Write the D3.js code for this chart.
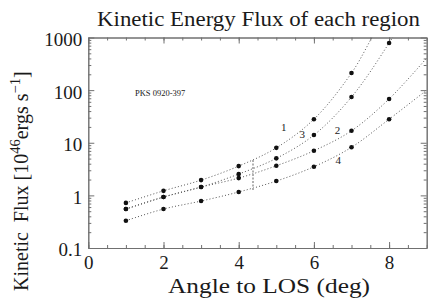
<!DOCTYPE html>
<html><head><meta charset="utf-8">
<script src="https://cdn.jsdelivr.net/npm/d3@7"></script>
<style>
body{margin:0;background:#fff;}
text{font-family:"Liberation Serif","Times New Roman",serif;fill:#1a1a1a;}
</style></head>
<body><svg id="c" width="428" height="302"></svg>
<script>
// ---- data ----
const angles = [1, 2, 3, 4, 5, 6, 7, 8];
const flux1 = [0.72, 1.22, 1.95, 3.6, 8.0, 28, 211, 3200];
const flux2 = [0.55, 0.93, 1.44, 2.13, 3.65, 7.05, 16.9, 68];
const flux3 = [0.55, 0.93, 1.44, 2.54, 5.05, 14.0, 74, 786];
const flux4 = [0.33, 0.55, 0.78, 1.16, 1.87, 3.5, 8.2, 28];
// curve end values at angle 9
const curveEndAngle = 9;
const curveEnd = [12000, 407, 12000, 100];
const seriesNames = ["1", "2", "3", "4"];
const labelPos = [[5.2, 20], [6.63, 17.4], [5.69, 14.6], [6.65, 4.7]];
const xMajor = [0, 2, 4, 6, 8];
const xMinor = d3.range(0, 9.01, 0.5);
const yMajor = [0.1, 1, 10, 100, 1000];
const yMinor = [0.1, 1, 10, 100].flatMap(d => d3.range(2, 10).map(k => +(k * d).toPrecision(3)));
const markerX = 4.38, markerRange = [1.26, 4.7];
const note = "PKS 0920-397";
const notePos = [1.24, 77];

const svg = d3.select("#c");
const x = d3.scaleLinear().domain([0, 9]).range([88.3, 426.7]);
const y = d3.scaleLog().domain([0.1, 1000]).range([248, 37.5]);
const frameColor = "#707070";

svg.append("defs").append("clipPath").attr("id", "clip")
  .append("rect").attr("x", x(0)).attr("y", y(1000)).attr("width", x(9) - x(0)).attr("height", y(0.1) - y(1000));

function styleAxis(g) {
  g.selectAll("path.domain").attr("stroke", frameColor);
  g.selectAll(".tick line").attr("stroke", frameColor);
}
// bottom
const gb = svg.append("g").attr("transform", `translate(0,${y(0.1)})`);
gb.call(d3.axisBottom(x).tickValues(xMinor).tickSize(-3).tickSizeOuter(0).tickFormat("")).call(styleAxis);
const gb2 = svg.append("g").attr("transform", `translate(0,${y(0.1)})`);
gb2.call(d3.axisBottom(x).tickValues(xMajor).tickSize(-6).tickSizeOuter(0).tickPadding(8).tickFormat(d3.format("d"))).call(styleAxis);
gb2.selectAll("text").attr("font-size", 19).attr("font-family", "Liberation Serif").attr("fill", "#1a1a1a");
// top
const gt = svg.append("g").attr("transform", `translate(0,${y(1000)})`);
gt.call(d3.axisTop(x).tickValues(xMinor).tickSize(-3).tickSizeOuter(0).tickFormat("")).call(styleAxis);
const gt2 = svg.append("g").attr("transform", `translate(0,${y(1000)})`);
gt2.call(d3.axisTop(x).tickValues(xMajor).tickSize(-6).tickSizeOuter(0).tickFormat("")).call(styleAxis);
// left
const gl = svg.append("g").attr("transform", `translate(${x(0)},0)`);
gl.call(d3.axisLeft(y).tickValues(yMinor).tickSize(-3).tickSizeOuter(0).tickFormat("")).call(styleAxis);
const gl2 = svg.append("g").attr("transform", `translate(${x(0)},0)`);
gl2.call(d3.axisLeft(y).tickValues(yMajor).tickSize(-6).tickSizeOuter(0).tickPadding(6).tickFormat(d => d < 1 ? "0.1" : d3.format("d")(d))).call(styleAxis);
gl2.selectAll("text").attr("font-size", 19).attr("dy", "0.42em").attr("font-family", "Liberation Serif").attr("fill", "#1a1a1a");
// right
const gr = svg.append("g").attr("transform", `translate(${x(9)},0)`);
gr.call(d3.axisRight(y).tickValues(yMinor).tickSize(-3).tickSizeOuter(0).tickFormat("")).call(styleAxis);
const gr2 = svg.append("g").attr("transform", `translate(${x(9)},0)`);
gr2.call(d3.axisRight(y).tickValues(yMajor).tickSize(-6).tickSizeOuter(0).tickFormat("")).call(styleAxis);

// curves
const plot = svg.append("g").attr("clip-path", "url(#clip)");
const allSeries = [flux1, flux2, flux3, flux4];
const line = d3.line().x(d => x(d[0])).y(d => y(d[1])).curve(d3.curveCatmullRom);
allSeries.forEach((s, i) => {
  const pts = angles.map((a, j) => [a, s[j]]).concat([[curveEndAngle, curveEnd[i]]]);
  plot.append("path").attr("d", line(pts)).attr("fill", "none")
    .attr("stroke", "#555").attr("stroke-width", 1).attr("stroke-dasharray", "1,2.2");
});
// marker
plot.append("line").attr("x1", x(markerX)).attr("x2", x(markerX))
  .attr("y1", y(markerRange[0])).attr("y2", y(markerRange[1]))
  .attr("stroke", "#b0b0b0").attr("stroke-width", 2).attr("stroke-dasharray", "2,1.5");
// points
allSeries.forEach(s => {
  plot.selectAll(null).data(angles.map((a, j) => [a, s[j]])).enter().append("circle")
    .attr("cx", d => x(d[0])).attr("cy", d => y(d[1])).attr("r", 2.3).attr("fill", "#111");
});
// series labels
seriesNames.forEach((n, i) => {
  svg.append("text").attr("x", x(labelPos[i][0])).attr("y", y(labelPos[i][1]))
    .attr("text-anchor", "middle").attr("dy", "0.35em").attr("font-size", 11).text(n);
});
svg.append("text").attr("x", x(notePos[0])).attr("y", y(notePos[1])).attr("font-size", 8.5).text(note);

// title
svg.append("text").attr("x", 97).attr("y", 26).attr("font-size", 20)
  .attr("textLength", 323).attr("lengthAdjust", "spacingAndGlyphs").text("Kinetic Energy Flux of each region");
// x label
svg.append("text").attr("x", 168).attr("y", 293).attr("font-size", 20)
  .attr("textLength", 202).attr("lengthAdjust", "spacingAndGlyphs").text("Angle to LOS (deg)");
// y label
const yl = svg.append("text").attr("transform", "translate(28,291) rotate(-90)").attr("font-size", 20)
  .style("white-space", "pre");
yl.append("tspan").text("Kinetic  Flux [10");
yl.append("tspan").attr("font-size", 14.5).attr("dy", "-8").text("46");
yl.append("tspan").attr("dy", "8").text("ergs s");
yl.append("tspan").attr("font-size", 14.5).attr("dy", "-8").text("\u22121");
yl.append("tspan").attr("dy", "8").text("]");
</script></body></html>
